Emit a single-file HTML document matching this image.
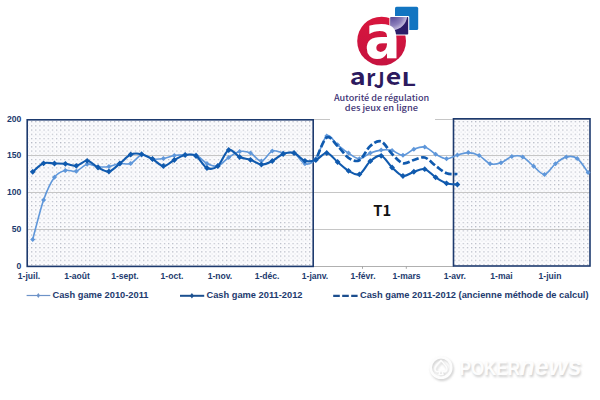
<!DOCTYPE html>
<html><head><meta charset="utf-8"><style>
html,body{margin:0;padding:0;background:#fff;width:600px;height:400px;overflow:hidden}
svg{display:block}
.lab{font-family:"Liberation Sans",Arial,sans-serif;font-weight:bold;fill:#1d3a6e}
</style></head><body>
<svg width="600" height="400" viewBox="0 0 600 400">
<defs>
<pattern id="dots" x="2" y="3.5" width="4.15" height="4.2" patternUnits="userSpaceOnUse">
<rect width="4.15" height="4.2" fill="#fbfbfd"/>
<rect x="0" y="0" width="1.2" height="1.2" fill="#b4b8c4"/>
<rect x="2.1" y="2.1" width="1" height="1" fill="#e0e2e8"/>
</pattern>
<radialGradient id="gloss" cx="392" cy="15" r="15.2" gradientUnits="userSpaceOnUse">
<stop offset="0" stop-color="#4e3f90"/>
<stop offset="0.7" stop-color="#8c80bb"/>
<stop offset="1" stop-color="#c2bbdc"/>
</radialGradient>
<linearGradient id="redg" x1="0" y1="0" x2="0" y2="1"><stop offset="0" stop-color="#d8163d"/><stop offset="1" stop-color="#c61340"/></linearGradient>
<clipPath id="sq"><rect x="390.5" y="17" width="17.7" height="17.5" rx="0.8"/></clipPath>
<filter id="wb" x="-10%" y="-10%" width="120%" height="130%"><feGaussianBlur stdDeviation="1"/></filter>
</defs>
<rect x="27" y="119.5" width="286" height="147" fill="url(#dots)"/>
<rect x="453.5" y="118.5" width="136.5" height="147.5" fill="url(#dots)"/>
<g stroke="#c6c6c6" stroke-width="1"><line x1="27" x2="590" y1="119.5" y2="119.5"/><line x1="27" x2="590" y1="155.5" y2="155.5"/><line x1="27" x2="590" y1="192.5" y2="192.5"/><line x1="27" x2="590" y1="229.5" y2="229.5"/></g>
<line x1="313" x2="454" y1="266.5" y2="266.5" stroke="#b0b0b0" stroke-width="1"/>
<g stroke="#a8a8a8"><line x1="362.5" x2="362.5" y1="266" y2="268.8"/><line x1="406.3" x2="406.3" y1="266" y2="268.8"/></g>
<rect x="27.2" y="119.8" width="286" height="146.6" fill="none" stroke="#1d3a6e" stroke-width="1.6"/>
<rect x="453.5" y="118.8" width="136.5" height="147.2" fill="none" stroke="#1d3a6e" stroke-width="1.6"/>
<rect x="330" y="0" width="105" height="121" fill="#fff"/>

<path d="M32.70,239.50 C34.52,232.90 39.96,210.28 43.59,199.90 C47.22,189.52 50.85,182.12 54.48,177.20 C58.11,172.28 61.74,171.40 65.37,170.40 C69.00,169.40 72.63,172.23 76.26,171.20 C79.89,170.17 83.52,164.93 87.15,164.20 C90.78,163.47 94.41,166.42 98.04,166.80 C101.67,167.18 105.30,167.05 108.93,166.50 C112.56,165.95 116.19,164.00 119.82,163.50 C123.45,163.00 127.08,164.92 130.71,163.50 C134.34,162.08 137.97,155.75 141.60,155.00 C145.23,154.25 148.86,158.42 152.49,159.00 C156.12,159.58 159.75,159.08 163.38,158.50 C167.01,157.92 170.64,156.12 174.27,155.50 C177.90,154.88 181.53,154.88 185.16,154.80 C188.79,154.72 192.42,153.55 196.05,155.00 C199.68,156.45 203.31,161.67 206.94,163.50 C210.57,165.33 214.20,167.00 217.83,166.00 C221.46,165.00 225.09,159.92 228.72,157.50 C232.35,155.08 235.98,152.25 239.61,151.50 C243.24,150.75 246.87,151.42 250.50,153.00 C254.13,154.58 257.76,161.33 261.39,161.00 C265.02,160.67 268.65,152.33 272.28,151.00 C275.91,149.67 279.54,152.67 283.17,153.00 C286.80,153.33 290.43,151.20 294.06,153.00 C297.69,154.80 301.32,162.85 304.95,163.80 C308.58,164.75 312.21,163.33 315.84,158.70 C319.47,154.07 323.10,138.32 326.73,136.00 C330.36,133.68 333.99,141.95 337.62,144.80 C341.25,147.65 344.88,150.77 348.51,153.10 C352.14,155.43 355.77,158.80 359.40,158.80 C363.03,158.80 366.66,154.55 370.29,153.10 C373.92,151.65 377.55,150.53 381.18,150.10 C384.81,149.67 388.44,149.63 392.07,150.50 C395.70,151.37 399.33,155.52 402.96,155.30 C406.59,155.08 410.22,150.58 413.85,149.20 C417.48,147.82 421.11,146.17 424.74,147.00 C428.37,147.83 432.00,152.25 435.63,154.20 C439.26,156.15 442.89,158.57 446.52,158.70 C450.15,158.83 453.78,156.02 457.41,155.00 C461.04,153.98 464.67,152.50 468.30,152.60 C471.93,152.70 475.56,153.74 479.19,155.60 C482.82,157.46 486.45,162.56 490.08,163.75 C493.71,164.94 497.34,163.94 500.97,162.75 C504.60,161.56 508.23,157.57 511.86,156.60 C515.49,155.62 519.12,155.29 522.75,156.90 C526.38,158.51 530.01,163.33 533.64,166.25 C537.27,169.17 540.90,174.82 544.53,174.40 C548.16,173.98 551.79,166.67 555.42,163.75 C559.05,160.83 562.68,157.78 566.31,156.90 C569.94,156.03 573.57,155.90 577.20,158.50 C580.83,161.10 586.28,170.17 588.09,172.50" fill="none" stroke="#5f97da" stroke-width="1.6" stroke-linejoin="round"/>
<path fill="#5f97da" d="M32.70,237.00L35.20,239.50L32.70,242.00L30.20,239.50ZM43.59,197.40L46.09,199.90L43.59,202.40L41.09,199.90ZM54.48,174.70L56.98,177.20L54.48,179.70L51.98,177.20ZM65.37,167.90L67.87,170.40L65.37,172.90L62.87,170.40ZM76.26,168.70L78.76,171.20L76.26,173.70L73.76,171.20ZM87.15,161.70L89.65,164.20L87.15,166.70L84.65,164.20ZM98.04,164.30L100.54,166.80L98.04,169.30L95.54,166.80ZM108.93,164.00L111.43,166.50L108.93,169.00L106.43,166.50ZM119.82,161.00L122.32,163.50L119.82,166.00L117.32,163.50ZM130.71,161.00L133.21,163.50L130.71,166.00L128.21,163.50ZM141.60,152.50L144.10,155.00L141.60,157.50L139.10,155.00ZM152.49,156.50L154.99,159.00L152.49,161.50L149.99,159.00ZM163.38,156.00L165.88,158.50L163.38,161.00L160.88,158.50ZM174.27,153.00L176.77,155.50L174.27,158.00L171.77,155.50ZM185.16,152.30L187.66,154.80L185.16,157.30L182.66,154.80ZM196.05,152.50L198.55,155.00L196.05,157.50L193.55,155.00ZM206.94,161.00L209.44,163.50L206.94,166.00L204.44,163.50ZM217.83,163.50L220.33,166.00L217.83,168.50L215.33,166.00ZM228.72,155.00L231.22,157.50L228.72,160.00L226.22,157.50ZM239.61,149.00L242.11,151.50L239.61,154.00L237.11,151.50ZM250.50,150.50L253.00,153.00L250.50,155.50L248.00,153.00ZM261.39,158.50L263.89,161.00L261.39,163.50L258.89,161.00ZM272.28,148.50L274.78,151.00L272.28,153.50L269.78,151.00ZM283.17,150.50L285.67,153.00L283.17,155.50L280.67,153.00ZM294.06,150.50L296.56,153.00L294.06,155.50L291.56,153.00ZM304.95,161.30L307.45,163.80L304.95,166.30L302.45,163.80ZM315.84,156.20L318.34,158.70L315.84,161.20L313.34,158.70ZM326.73,133.50L329.23,136.00L326.73,138.50L324.23,136.00ZM337.62,142.30L340.12,144.80L337.62,147.30L335.12,144.80ZM348.51,150.60L351.01,153.10L348.51,155.60L346.01,153.10ZM359.40,156.30L361.90,158.80L359.40,161.30L356.90,158.80ZM370.29,150.60L372.79,153.10L370.29,155.60L367.79,153.10ZM381.18,147.60L383.68,150.10L381.18,152.60L378.68,150.10ZM392.07,148.00L394.57,150.50L392.07,153.00L389.57,150.50ZM402.96,152.80L405.46,155.30L402.96,157.80L400.46,155.30ZM413.85,146.70L416.35,149.20L413.85,151.70L411.35,149.20ZM424.74,144.50L427.24,147.00L424.74,149.50L422.24,147.00ZM435.63,151.70L438.13,154.20L435.63,156.70L433.13,154.20ZM446.52,156.20L449.02,158.70L446.52,161.20L444.02,158.70ZM457.41,152.50L459.91,155.00L457.41,157.50L454.91,155.00ZM468.30,150.10L470.80,152.60L468.30,155.10L465.80,152.60ZM479.19,153.10L481.69,155.60L479.19,158.10L476.69,155.60ZM490.08,161.25L492.58,163.75L490.08,166.25L487.58,163.75ZM500.97,160.25L503.47,162.75L500.97,165.25L498.47,162.75ZM511.86,154.10L514.36,156.60L511.86,159.10L509.36,156.60ZM522.75,154.40L525.25,156.90L522.75,159.40L520.25,156.90ZM533.64,163.75L536.14,166.25L533.64,168.75L531.14,166.25ZM544.53,171.90L547.03,174.40L544.53,176.90L542.03,174.40ZM555.42,161.25L557.92,163.75L555.42,166.25L552.92,163.75ZM566.31,154.40L568.81,156.90L566.31,159.40L563.81,156.90ZM577.20,156.00L579.70,158.50L577.20,161.00L574.70,158.50ZM588.09,170.00L590.59,172.50L588.09,175.00L585.59,172.50Z"/>
<path d="M457.41,174.00 C455.60,173.88 450.15,174.62 446.52,173.25 C442.89,171.88 439.26,168.38 435.63,165.75 C432.00,163.12 428.37,158.46 424.74,157.50 C421.11,156.54 417.48,159.05 413.85,160.00 C410.22,160.95 406.59,164.20 402.96,163.20 C399.33,162.20 395.70,157.62 392.07,154.00 C388.44,150.38 384.81,142.83 381.18,141.50 C377.55,140.17 373.92,142.88 370.29,146.00 C366.66,149.12 363.03,158.23 359.40,160.20 C355.77,162.17 352.14,160.17 348.51,157.80 C344.88,155.43 341.25,149.38 337.62,146.00 C333.99,142.62 330.36,135.17 326.73,137.50 C323.10,139.83 317.65,156.25 315.84,160.00" fill="none" stroke="#105aae" stroke-width="2.7" stroke-dasharray="7 2.6" stroke-dashoffset="3.8"/>
<path d="M32.70,171.80 C34.52,170.38 39.96,164.68 43.59,163.30 C47.22,161.92 50.85,163.42 54.48,163.50 C58.11,163.58 61.74,163.42 65.37,163.80 C69.00,164.18 72.63,166.30 76.26,165.80 C79.89,165.30 83.52,160.52 87.15,160.80 C90.78,161.08 94.41,165.72 98.04,167.50 C101.67,169.28 105.30,172.17 108.93,171.50 C112.56,170.83 116.19,166.33 119.82,163.50 C123.45,160.67 127.08,156.05 130.71,154.50 C134.34,152.95 137.97,153.45 141.60,154.20 C145.23,154.95 148.86,157.03 152.49,159.00 C156.12,160.97 159.75,165.83 163.38,166.00 C167.01,166.17 170.64,161.83 174.27,160.00 C177.90,158.17 181.53,155.67 185.16,155.00 C188.79,154.33 192.42,153.83 196.05,156.00 C199.68,158.17 203.31,166.33 206.94,168.00 C210.57,169.67 214.20,169.00 217.83,166.00 C221.46,163.00 225.09,151.50 228.72,150.00 C232.35,148.50 235.98,155.37 239.61,157.00 C243.24,158.63 246.87,158.55 250.50,159.80 C254.13,161.05 257.76,164.30 261.39,164.50 C265.02,164.70 268.65,162.75 272.28,161.00 C275.91,159.25 279.54,155.33 283.17,154.00 C286.80,152.67 290.43,151.87 294.06,153.00 C297.69,154.13 301.32,159.63 304.95,160.80 C308.58,161.97 312.21,161.30 315.84,160.00 C319.47,158.70 323.10,152.67 326.73,153.00 C330.36,153.33 333.99,159.03 337.62,162.00 C341.25,164.97 344.88,168.75 348.51,170.80 C352.14,172.85 355.77,175.90 359.40,174.30 C363.03,172.70 366.66,164.28 370.29,161.20 C373.92,158.12 377.55,154.75 381.18,155.80 C384.81,156.85 388.44,164.13 392.07,167.50 C395.70,170.87 399.33,175.29 402.96,176.00 C406.59,176.71 410.22,172.88 413.85,171.75 C417.48,170.62 421.11,168.27 424.74,169.20 C428.37,170.12 432.00,174.95 435.63,177.30 C439.26,179.65 442.89,182.10 446.52,183.30 C450.15,184.50 455.60,184.30 457.41,184.50" fill="none" stroke="#105aae" stroke-width="2.1" stroke-linejoin="round"/>
<path fill="#105aae" d="M32.70,168.90L35.60,171.80L32.70,174.70L29.80,171.80ZM43.59,160.40L46.49,163.30L43.59,166.20L40.69,163.30ZM54.48,160.60L57.38,163.50L54.48,166.40L51.58,163.50ZM65.37,160.90L68.27,163.80L65.37,166.70L62.47,163.80ZM76.26,162.90L79.16,165.80L76.26,168.70L73.36,165.80ZM87.15,157.90L90.05,160.80L87.15,163.70L84.25,160.80ZM98.04,164.60L100.94,167.50L98.04,170.40L95.14,167.50ZM108.93,168.60L111.83,171.50L108.93,174.40L106.03,171.50ZM119.82,160.60L122.72,163.50L119.82,166.40L116.92,163.50ZM130.71,151.60L133.61,154.50L130.71,157.40L127.81,154.50ZM141.60,151.30L144.50,154.20L141.60,157.10L138.70,154.20ZM152.49,156.10L155.39,159.00L152.49,161.90L149.59,159.00ZM163.38,163.10L166.28,166.00L163.38,168.90L160.48,166.00ZM174.27,157.10L177.17,160.00L174.27,162.90L171.37,160.00ZM185.16,152.10L188.06,155.00L185.16,157.90L182.26,155.00ZM196.05,153.10L198.95,156.00L196.05,158.90L193.15,156.00ZM206.94,165.10L209.84,168.00L206.94,170.90L204.04,168.00ZM217.83,163.10L220.73,166.00L217.83,168.90L214.93,166.00ZM228.72,147.10L231.62,150.00L228.72,152.90L225.82,150.00ZM239.61,154.10L242.51,157.00L239.61,159.90L236.71,157.00ZM250.50,156.90L253.40,159.80L250.50,162.70L247.60,159.80ZM261.39,161.60L264.29,164.50L261.39,167.40L258.49,164.50ZM272.28,158.10L275.18,161.00L272.28,163.90L269.38,161.00ZM283.17,151.10L286.07,154.00L283.17,156.90L280.27,154.00ZM294.06,150.10L296.96,153.00L294.06,155.90L291.16,153.00ZM304.95,157.90L307.85,160.80L304.95,163.70L302.05,160.80ZM315.84,157.10L318.74,160.00L315.84,162.90L312.94,160.00ZM326.73,150.10L329.63,153.00L326.73,155.90L323.83,153.00ZM337.62,159.10L340.52,162.00L337.62,164.90L334.72,162.00ZM348.51,167.90L351.41,170.80L348.51,173.70L345.61,170.80ZM359.40,171.40L362.30,174.30L359.40,177.20L356.50,174.30ZM370.29,158.30L373.19,161.20L370.29,164.10L367.39,161.20ZM381.18,152.90L384.08,155.80L381.18,158.70L378.28,155.80ZM392.07,164.60L394.97,167.50L392.07,170.40L389.17,167.50ZM402.96,173.10L405.86,176.00L402.96,178.90L400.06,176.00ZM413.85,168.85L416.75,171.75L413.85,174.65L410.95,171.75ZM424.74,166.30L427.64,169.20L424.74,172.10L421.84,169.20ZM435.63,174.40L438.53,177.30L435.63,180.20L432.73,177.30ZM446.52,180.40L449.42,183.30L446.52,186.20L443.62,183.30ZM457.41,181.60L460.31,184.50L457.41,187.40L454.51,184.50Z"/>

<g class="lab" font-size="9.9" transform="scale(0.87,1)"><text x="24.60" y="268.7" text-anchor="end">0</text><text x="24.60" y="231.9" text-anchor="end">50</text><text x="24.60" y="195.1" text-anchor="end">100</text><text x="24.60" y="158.4" text-anchor="end">150</text><text x="24.60" y="121.6" text-anchor="end">200</text></g>
<g class="lab" font-size="9.5" transform="scale(0.9,1)"><text x="32.22" y="279.3" text-anchor="middle">1-juil.</text><text x="85.56" y="279.3" text-anchor="middle">1-août</text><text x="138.89" y="279.3" text-anchor="middle">1-sept.</text><text x="191.11" y="279.3" text-anchor="middle">1-oct.</text><text x="244.44" y="279.3" text-anchor="middle">1-nov.</text><text x="296.67" y="279.3" text-anchor="middle">1-déc.</text><text x="350.00" y="279.3" text-anchor="middle">1-janv.</text><text x="403.33" y="279.3" text-anchor="middle">1-févr.</text><text x="451.78" y="279.3" text-anchor="middle">1-mars</text><text x="505.33" y="279.3" text-anchor="middle">1-avr.</text><text x="557.22" y="279.3" text-anchor="middle">1-mai</text><text x="611.11" y="279.3" text-anchor="middle">1-juin</text></g>
<text transform="translate(373.358,216.200) scale(0.14732,0.15000)" font-family="Noto Sans CJK JP, sans-serif" font-weight="bold" font-size="100" fill="#111">T1</text>
<g class="lab" font-size="9.6">
<line x1="26.6" x2="50.3" y1="295.5" y2="295.5" stroke="#6d93c8" stroke-width="1.2"/>
<path d="M38.3,293L40,295.5L38.3,298L36.6,295.5Z" fill="#6d93c8"/>
<text x="52.5" y="298.4" textLength="96" lengthAdjust="spacingAndGlyphs">Cash game 2010-2011</text>
<line x1="180" x2="204.2" y1="295.8" y2="295.8" stroke="#1b5090" stroke-width="2"/>
<path d="M191.9,293L193.9,295.8L191.9,298.6L189.9,295.8Z" fill="#1b5090"/>
<text x="206.5" y="298.4" textLength="96" lengthAdjust="spacingAndGlyphs">Cash game 2011-2012</text>
<line x1="333.2" x2="357.6" y1="295.8" y2="295.8" stroke="#1b4e8e" stroke-width="2.3" stroke-dasharray="6.6 2.4"/>
<text x="360" y="298.4" textLength="228.5" lengthAdjust="spacingAndGlyphs">Cash game 2011-2012 (ancienne méthode de calcul)</text>
</g>
<!-- logo -->
<circle cx="381.6" cy="41.1" r="24.4" fill="url(#redg)"/>
<rect x="395" y="6.8" width="23.2" height="23.2" rx="1.6" fill="#1275c1"/>
<rect x="389.4" y="15.9" width="19.9" height="19.7" rx="1.2" fill="#fff"/>
<rect x="390.5" y="17" width="17.7" height="17.5" rx="0.8" fill="#2b1d68"/>
<circle cx="392" cy="15" r="15.2" fill="url(#gloss)" clip-path="url(#sq)"/>
<text transform="translate(364.557,58.389) scale(0.53571,0.61053)" font-family="DejaVu Sans, sans-serif" font-weight="bold" font-size="100" fill="#fff">a</text>
<text transform="translate(349.649,85.267) scale(0.27021,0.23276)" font-family="Noto Sans CJK JP, sans-serif" font-weight="bold" font-size="100" fill="#2c1a5e">a</text><text transform="translate(366.133,85.500) scale(0.20833,0.23684)" font-family="Noto Sans CJK JP, sans-serif" font-weight="bold" font-size="100" fill="#2c1a5e">r</text><text transform="translate(373.827,87.787) scale(0.19111,0.21333)" font-family="Noto Sans CJK JP, sans-serif" font-weight="bold" font-size="100" fill="#2c1a5e">J</text><text transform="translate(385.636,85.464) scale(0.26600,0.23621)" font-family="Noto Sans CJK JP, sans-serif" font-weight="bold" font-size="100" fill="#2c1a5e">e</text><text transform="translate(401.440,85.500) scale(0.25111,0.18243)" font-family="Noto Sans CJK JP, sans-serif" font-weight="bold" font-size="100" fill="#2c1a5e">L</text>
<g font-family="Noto Sans CJK JP,sans-serif" font-weight="500" font-size="8.5" fill="#413476">
<text x="334" y="100.7" textLength="95.2" lengthAdjust="spacingAndGlyphs">Autorité de régulation</text>
<text x="344.8" y="110.5" textLength="73.2" lengthAdjust="spacingAndGlyphs">des jeux en ligne</text>
</g>
<!-- watermark -->
<g fill="#cfcfcf" filter="url(#wb)" transform="translate(1.2,1.8)">
<circle cx="441" cy="367.5" r="10.3" fill="none" stroke="#cfcfcf" stroke-width="2.6"/>
<path d="M441,360.5C444,364 447,366 447,369C447,371.5 444.5,372.5 442,371L443,374.5H439L440,371C437.5,372.5 435,371.5 435,369C435,366 438,364 441,360.5Z" fill="none" stroke="#cfcfcf" stroke-width="1.4"/>
<text transform="translate(459.612,374.800) scale(0.16965,0.20000)" font-family="Liberation Sans, sans-serif" font-weight="bold" font-size="100">POKER</text><text transform="translate(519.504,375.035) scale(0.24776,0.26545)" font-family="Liberation Sans, sans-serif" font-weight="bold" font-size="100" font-style="italic">news</text>
</g>
<g fill="#fdfdfd">
<circle cx="441" cy="367.5" r="10.3" fill="none" stroke="#fdfdfd" stroke-width="2.6"/>
<path d="M441,360.5C444,364 447,366 447,369C447,371.5 444.5,372.5 442,371L443,374.5H439L440,371C437.5,372.5 435,371.5 435,369C435,366 438,364 441,360.5Z" fill="none" stroke="#fdfdfd" stroke-width="1.4"/>
<text transform="translate(459.612,374.800) scale(0.16965,0.20000)" font-family="Liberation Sans, sans-serif" font-weight="bold" font-size="100">POKER</text><text transform="translate(519.504,375.035) scale(0.24776,0.26545)" font-family="Liberation Sans, sans-serif" font-weight="bold" font-size="100" font-style="italic">news</text>
</g>
</svg>
</body></html>
